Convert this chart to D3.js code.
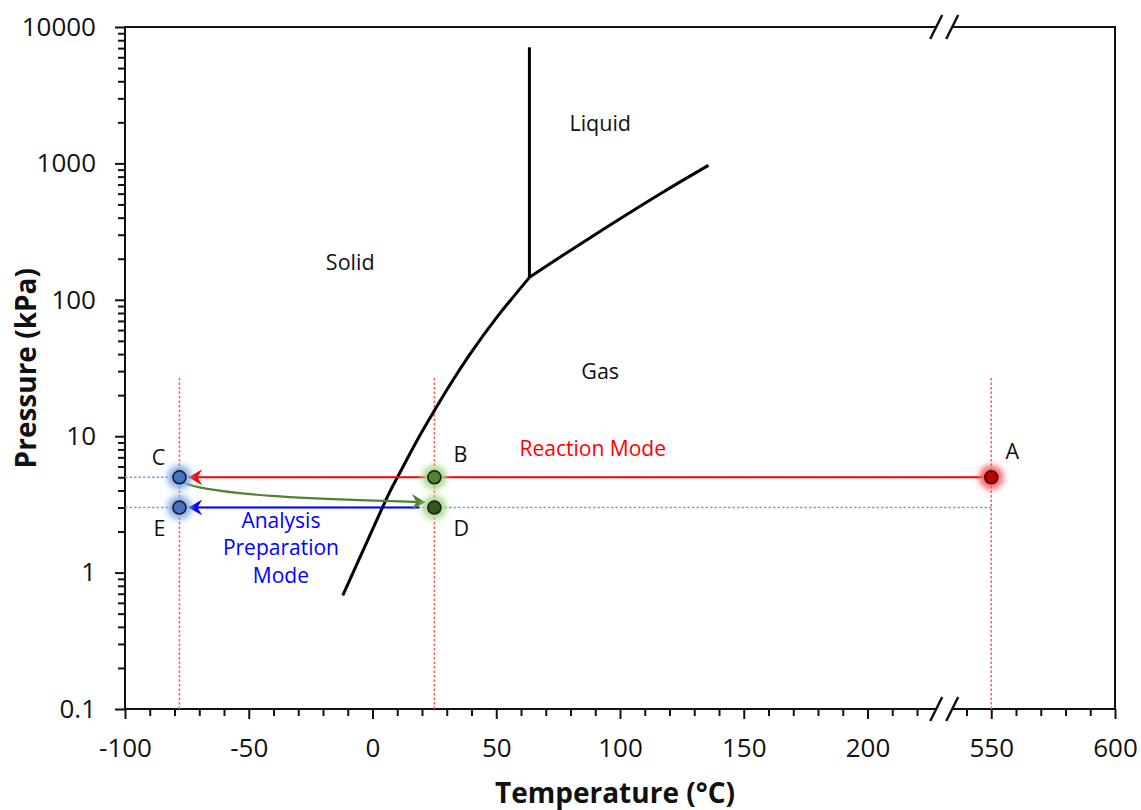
<!DOCTYPE html>
<html>
<head>
<meta charset="utf-8">
<title>Phase diagram with operating modes</title>
<script src="https://cdn.jsdelivr.net/npm/d3@7"></script>
<style>
  body { margin: 0; background: #fff; }
  text { font-family: "Open Sans", sans-serif; fill: #111; }
</style>
</head>
<body>
<div id="chart"></div>
<script>
// phase boundaries (temperature in °C, pressure in kPa)
var sublimTemp = [-12, 4, 10, 18, 25, 30, 39.4, 50.2, 56.9, 63.4];
var sublimPres = [0.68, 3.0, 4.97, 9.3, 15.4, 21.8, 40, 74.4, 105, 146];
var vapTemp = [63.4, 77.1, 97.3, 117.5, 135.7];
var vapPres = [146, 213, 366, 618, 968];
var meltTemp = [63.4, 63.4];
var meltPres = [146, 7100];

// operating points
var pointNames = ["A", "B", "C", "D", "E"];
var pointTemp = [550, 25, -78, 25, -78];
var pointPres = [5, 5, 5, 3, 3];

// transfer C -> D (green curved arrow)
var transferTemp = [-77, -70, -43, -2, 21];
var transferPres = [4.6, 4.13, 3.61, 3.37, 3.28];

// axis ticks
var tempTicks = [-100, -50, 0, 50, 100, 150, 200, 550, 600];
var tempMinor = [-90, -80, -70, -60, -40, -30, -20, -10, 10, 20, 30, 40, 60, 70, 80, 90,
                 110, 120, 130, 140, 160, 170, 180, 190, 210, 220, 540, 560, 570, 580, 590];
var presTicks = [0.1, 1, 10, 100, 1000, 10000];
var presTickLabels = ["0.1", "1", "10", "100", "1000", "10000"];

var margin = {top: 27, right: 26, bottom: 101, left: 125};
var width = 1141 - margin.left - margin.right;
var height = 810 - margin.top - margin.bottom;

var svg = d3.select("#chart")
  .append("svg")
    .attr("width", 1141)
    .attr("height", 810)
  .append("g")
    .attr("transform", "translate(" + margin.left + "," + margin.top + ")");

// broken x axis: 500+ is shifted down by 300
var x = d3.scaleLinear().domain([-100, 300]).range([0, width]);
function cut(t) { return t > 400 ? t - 300 : t; }
function tx(t) { return x(cut(t)); }
var breakAt = 231;

var y = d3.scaleLog().domain([0.1, 10000]).range([height, 0]);

var defs = svg.append("defs");
var glow = defs.append("filter").attr("id", "glow")
  .attr("x", "-100%").attr("y", "-100%").attr("width", "300%").attr("height", "300%");
glow.append("feGaussianBlur").attr("stdDeviation", 3);

// arrowhead, tip at the end of the path
function arrowMarker(id, color) {
  defs.append("marker")
    .attr("id", id)
    .attr("viewBox", "0 0 14 16")
    .attr("refX", 13)
    .attr("refY", 8)
    .attr("markerWidth", 14)
    .attr("markerHeight", 16)
    .attr("markerUnits", "userSpaceOnUse")
    .attr("orient", "auto")
    .append("path")
      .attr("d", "M14,8 L0,0 L5,8 L0,16 Z")
      .attr("fill", color);
}
arrowMarker("arrRed", "#ff0000");
arrowMarker("arrBlue", "#0000ff");
arrowMarker("arrGreen", "#548235");

// ---- axes ----
var xAxis = svg.append("g")
  .attr("transform", "translate(0," + height + ")")
  .call(d3.axisBottom(x)
    .tickValues(tempTicks.map(cut))
    .tickFormat(function(d) { return d > breakAt ? d + 300 : d; })
    .tickSize(10).tickPadding(20));
xAxis.select(".domain").remove();
xAxis.selectAll("line").attr("stroke", "#111").attr("stroke-width", 2);
xAxis.selectAll("text").attr("font-size", 26).attr("font-family", "Open Sans");

var xMinor = svg.append("g")
  .attr("transform", "translate(0," + height + ")")
  .call(d3.axisBottom(x).tickValues(tempMinor.map(cut)).tickFormat("").tickSize(7));
xMinor.select(".domain").remove();
xMinor.selectAll("line").attr("stroke", "#111").attr("stroke-width", 2);

var presMinor = [];
[0.1, 1, 10, 100, 1000].forEach(function(dec) {
  for (var k = 2; k <= 9; k++) presMinor.push(dec * k);
});

var yAxis = svg.append("g")
  .call(d3.axisLeft(y)
    .tickValues(presTicks)
    .tickFormat(function(d, i) { return presTickLabels[i]; })
    .tickSize(10).tickPadding(19));
yAxis.select(".domain").remove();
yAxis.selectAll("line").attr("stroke", "#111").attr("stroke-width", 2);
yAxis.selectAll("text").attr("font-size", 26).attr("font-family", "Open Sans");

var yMinor = svg.append("g")
  .call(d3.axisLeft(y).tickValues(presMinor).tickFormat("").tickSize(7));
yMinor.select(".domain").remove();
yMinor.selectAll("line").attr("stroke", "#111").attr("stroke-width", 2);

// frame with break
var bL = x(breakAt) - 8, bR = x(breakAt) + 8;
var frame = svg.append("g").attr("stroke", "#111").attr("stroke-width", 2).attr("fill", "none");
frame.append("path").attr("d",
  "M0," + height + "H" + bL + "M" + bR + "," + height + "H" + width + "V0H" + bR +
  "M" + bL + ",0H0V" + height);
[0, height].forEach(function(yy) {
  [bL, bR].forEach(function(cx) {
    frame.append("line")
      .attr("x1", cx - 6).attr("y1", yy + 12)
      .attr("x2", cx + 6).attr("y2", yy - 12)
      .attr("stroke-width", 2.5);
  });
});

// axis titles
svg.append("text")
  .attr("x", x(100) - 5)
  .attr("y", height + 94)
  .attr("text-anchor", "middle")
  .attr("font-size", 28)
  .attr("font-weight", "bold")
  .text("Temperature (°C)");

svg.append("text")
  .attr("transform", "translate(" + (-89) + "," + (y(10) - 68) + ") rotate(-90)")
  .attr("text-anchor", "middle")
  .attr("font-size", 28)
  .attr("font-weight", "bold")
  .text("Pressure (kPa)");

// ---- guide lines ----
var guides = svg.append("g").attr("fill", "none").attr("stroke-width", 1.5).attr("stroke-dasharray", "2.5,2");
[-78, 25, 550].forEach(function(t) {
  guides.append("line")
    .attr("x1", tx(t)).attr("x2", tx(t))
    .attr("y1", y(0.1)).attr("y2", y(27))
    .attr("stroke", "#ff5a5a");
});
[5, 3].forEach(function(p) {
  guides.append("line")
    .attr("x1", 0).attr("x2", tx(550))
    .attr("y1", y(p)).attr("y2", y(p))
    .attr("stroke", "#6aa6dc");
});

// ---- phase boundaries ----
function zip(a, b) { return a.map(function(v, i) { return [v, b[i]]; }); }

var line = d3.line()
  .x(function(d) { return tx(d[0]); })
  .y(function(d) { return y(d[1]); })
  .curve(d3.curveNatural);

svg.append("path").datum(zip(sublimTemp, sublimPres))
  .attr("d", line).attr("fill", "none").attr("stroke", "#000").attr("stroke-width", 3);
svg.append("path").datum(zip(vapTemp, vapPres))
  .attr("d", line).attr("fill", "none").attr("stroke", "#000").attr("stroke-width", 3);
svg.append("path").datum(zip(meltTemp, meltPres))
  .attr("d", line).attr("fill", "none").attr("stroke", "#000").attr("stroke-width", 3);

// ---- mode arrows ----
svg.append("line")
  .attr("x1", tx(550)).attr("x2", tx(-74))
  .attr("y1", y(5)).attr("y2", y(5))
  .attr("stroke", "#ff0000").attr("stroke-width", 2)
  .attr("marker-end", "url(#arrRed)");
svg.append("line")
  .attr("x1", tx(19)).attr("x2", tx(-74))
  .attr("y1", y(3)).attr("y2", y(3))
  .attr("stroke", "#0000ff").attr("stroke-width", 2)
  .attr("marker-end", "url(#arrBlue)");
svg.append("path").datum(zip(transferTemp, transferPres))
  .attr("d", d3.line()
    .x(function(d) { return tx(d[0]); })
    .y(function(d) { return y(d[1]); })
    .curve(d3.curveBasis))
  .attr("fill", "none").attr("stroke", "#548235").attr("stroke-width", 2.2)
  .attr("marker-end", "url(#arrGreen)");

// ---- points ----
var fillCol = {A: "#c00000", B: "#548235", C: "#4472c4", D: "#375623", E: "#4472c4"};
var glowCol = {A: "#ff5c5c", B: "#a9d98a", C: "#86aee8", D: "#a9d98a", E: "#86aee8"};
var labelDx = {A: 21, B: 26, C: -21, D: 27, E: -20};
var labelDy = {A: -18, B: -15, C: -12, D: 28, E: 28};

var pts = svg.append("g").selectAll("g")
  .data(pointNames)
  .enter().append("g")
    .attr("transform", function(d, i) { return "translate(" + tx(pointTemp[i]) + "," + y(pointPres[i]) + ")"; });
pts.append("circle").attr("r", 12)
  .attr("fill", function(d) { return glowCol[d]; })
  .attr("filter", "url(#glow)");
pts.append("circle").attr("r", 6.5)
  .attr("fill", function(d) { return fillCol[d]; })
  .attr("stroke", "#1a1a1a").attr("stroke-width", 1.5);
pts.append("text")
  .attr("x", function(d) { return labelDx[d]; })
  .attr("y", function(d) { return labelDy[d]; })
  .attr("text-anchor", "middle")
  .attr("font-size", 21.5)
  .text(function(d) { return d; });

// ---- region and mode labels ----
var regionNames = ["Liquid", "Solid", "Gas"];
var regionTemp = [92, -9, 92];
var regionPres = [1740, 164, 26.4];
svg.append("g").selectAll("text")
  .data(regionNames)
  .enter().append("text")
    .attr("x", function(d, i) { return tx(regionTemp[i]); })
    .attr("y", function(d, i) { return y(regionPres[i]); })
    .attr("text-anchor", "middle")
    .attr("font-size", 21.5)
    .text(function(d) { return d; });

svg.append("text")
  .attr("x", tx(89)).attr("y", y(7.2))
  .attr("text-anchor", "middle")
  .attr("font-size", 21)
  .style("fill", "#ff0000")
  .text("Reaction Mode");

var prepLines = ["Analysis", "Preparation", "Mode"];
svg.append("g").selectAll("text")
  .data(prepLines)
  .enter().append("text")
    .attr("x", tx(-37))
    .attr("y", function(d, i) { return y(3) + 20 + i * 27.5; })
    .attr("text-anchor", "middle")
    .attr("font-size", 21)
    .style("fill", "#0000ff")
    .text(function(d) { return d; });
</script>
</body>
</html>
